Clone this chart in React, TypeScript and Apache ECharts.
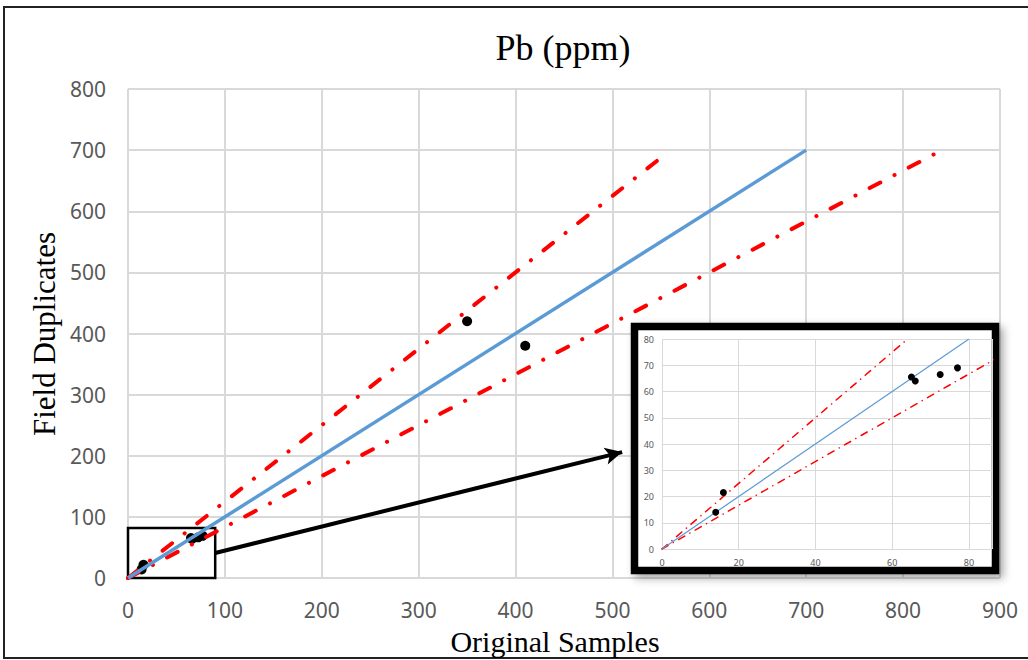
import React, { useEffect, useRef } from "react";
import * as echarts from "echarts";

// Samples: original (x) vs field duplicate (y), ppm
const originalSamples = [16, 14, 65, 66, 72.5, 77, 350, 410];
const fieldDuplicates = [21.5, 14, 65.5, 64, 66.5, 69, 420, 380];

// Reference lines (main chart)
const oneToOneMain = [[0, 0], [700, 700]];
const upperLimitMain = [[0, 0], [550, 687.5]];
const lowerLimitMain = [[0, 0], [840, 700]];

// Reference lines (inset, zoom on 0-80 ppm)
const oneToOneInset = [[0, 0], [80, 80]];
const upperLimitInset = [[0, 0], [64, 80]];
const lowerLimitInset = [[0, 0], [90, 75]];

// Zoom box and arrow (data coords, main chart)
const zoomBox = [[0, 0], [90, 82]];
const arrowFromTo = [[90, 41], [510, 206]];

const xTicksMain = { min: 0, max: 900, interval: 100 };
const yTicksMain = { min: 0, max: 800, interval: 100 };
const xTicksInset = { min: 0, max: 86, interval: 20 };
const yTicksInset = { min: 0, max: 80, interval: 10 };

const title = "Pb (ppm)";
const xTitle = "Original Samples";
const yTitle = "Field Duplicates";

export default function App() {
  const ref = useRef<HTMLDivElement>(null);
  useEffect(() => {
    if (!ref.current) return;
    const chart = echarts.init(ref.current, undefined, { renderer: "svg" });
    const pts = originalSamples.map((x, i) => [x, fieldDuplicates[i]]);
    const tickFont = { color: "#595959", fontFamily: "Noto Sans", fontSize: 21 };
    const insetFont = { color: "#595959", fontFamily: "Noto Sans", fontSize: 9 };
    const red = "#FF0000";
    const blue = "#5B9BD5";
    chart.setOption({
      animation: false,
      grid: [
        { left: 128, top: 89, width: 872, height: 489, containLabel: false },
        { left: 662, top: 339, width: 330, height: 210, containLabel: false, z: 60 },
      ],
      xAxis: [
        {
          type: "value",
          gridIndex: 0,
          ...xTicksMain,
          axisLine: { show: false },
          axisTick: { show: false },
          splitLine: { show: true, lineStyle: { color: "#d9d9d9", width: 2 } },
          axisLabel: { ...tickFont, margin: 21 },
        },
        {
          type: "value",
          gridIndex: 1,
          z: 60,
          ...xTicksInset,
          axisLine: { show: false },
          axisTick: { show: false },
          splitLine: { show: true, lineStyle: { color: "#d9d9d9", width: 1 } },
          axisLabel: { ...insetFont, margin: 9, showMaxLabel: false },
        },
      ],
      yAxis: [
        {
          type: "value",
          gridIndex: 0,
          ...yTicksMain,
          axisLine: { show: false },
          axisTick: { show: false },
          splitLine: { show: true, lineStyle: { color: "#d9d9d9", width: 2 } },
          axisLabel: { ...tickFont, margin: 22 },
        },
        {
          type: "value",
          gridIndex: 1,
          z: 60,
          ...yTicksInset,
          axisLine: { show: false },
          axisTick: { show: false },
          splitLine: { show: true, lineStyle: { color: "#d9d9d9", width: 1 } },
          axisLabel: { ...insetFont, margin: 8 },
        },
      ],
      series: [
        {
          type: "line",
          xAxisIndex: 0,
          yAxisIndex: 0,
          data: upperLimitMain,
          symbol: "none",
          lineStyle: { color: red, width: 4, type: [12, 16, 0.1, 16], cap: "round" },
        },
        {
          type: "line",
          xAxisIndex: 0,
          yAxisIndex: 0,
          data: lowerLimitMain,
          symbol: "none",
          lineStyle: { color: red, width: 4, type: [12, 16, 0.1, 16], cap: "round" },
        },
        {
          type: "line",
          xAxisIndex: 0,
          yAxisIndex: 0,
          data: oneToOneMain,
          symbol: "none",
          lineStyle: { color: blue, width: 3.5 },
        },
        {
          type: "scatter",
          xAxisIndex: 0,
          yAxisIndex: 0,
          data: pts,
          symbolSize: 10,
          itemStyle: { color: "#000", opacity: 1 },
          markArea: {
            silent: true,
            itemStyle: { color: "rgba(0,0,0,0)", borderColor: "#000", borderWidth: 2.5 },
            data: [[{ coord: zoomBox[0] }, { coord: zoomBox[1] }]],
          },
          markLine: {
            silent: true,
            symbol: ["none", "arrow"],
            symbolSize: [13, 17],
            label: { show: false },
            lineStyle: { color: "#000", width: 4, type: "solid", opacity: 1 },
            data: [[{ coord: arrowFromTo[0] }, { coord: arrowFromTo[1] }]],
          },
        },
        {
          type: "line",
          xAxisIndex: 1,
          yAxisIndex: 1,
          z: 70,
          data: upperLimitInset,
          symbol: "none",
          lineStyle: { color: red, width: 1.5, type: [7, 6, 0.1, 6], cap: "round" },
        },
        {
          type: "line",
          xAxisIndex: 1,
          yAxisIndex: 1,
          z: 70,
          data: lowerLimitInset,
          symbol: "none",
          lineStyle: { color: red, width: 1.5, type: [7, 6, 0.1, 6], cap: "round" },
        },
        {
          type: "line",
          xAxisIndex: 1,
          yAxisIndex: 1,
          z: 70,
          data: oneToOneInset,
          symbol: "none",
          lineStyle: { color: blue, width: 1.2 },
        },
        {
          type: "scatter",
          xAxisIndex: 1,
          yAxisIndex: 1,
          z: 72,
          data: pts.filter((p) => p[0] <= 86 && p[1] <= 80),
          symbolSize: 7,
          itemStyle: { color: "#000", opacity: 1 },
        },
      ],
      graphic: {
        elements: [
          {
            type: "rect",
            z: 50,
            shape: { x: 634.5, y: 326.5, width: 361, height: 244 },
            style: {
              fill: "#fff",
              stroke: "#000",
              lineWidth: 7.5,
              shadowBlur: 8,
              shadowOffsetX: 4,
              shadowOffsetY: 4,
              shadowColor: "rgba(0,0,0,0.35)",
            },
          },
          {
            type: "rect",
            z: 100,
            shape: { x: 4, y: 7, width: 1030, height: 651 },
            style: { fill: "none", stroke: "#222", lineWidth: 2 },
          },
          {
            type: "text",
            z: 100,
            x: 563,
            y: 48,
            style: {
              text: title,
              font: '36px "Liberation Serif"',
              fill: "#000",
              align: "center",
              verticalAlign: "middle",
            },
          },
          {
            type: "text",
            z: 100,
            x: 555,
            y: 641,
            style: {
              text: xTitle,
              font: '30px "Liberation Serif"',
              fill: "#000",
              align: "center",
              verticalAlign: "middle",
            },
          },
          {
            type: "text",
            z: 100,
            x: 44,
            y: 334,
            rotation: Math.PI / 2,
            style: {
              text: yTitle,
              font: '31px "Liberation Serif"',
              fill: "#000",
              align: "center",
              verticalAlign: "middle",
            },
          },
        ],
      },
    });
    return () => chart.dispose();
  }, []);
  return (
    <div
      ref={ref}
      style={{ position: "absolute", left: 0, top: 0, width: 1028, height: 660, background: "#fff" }}
    />
  );
}
